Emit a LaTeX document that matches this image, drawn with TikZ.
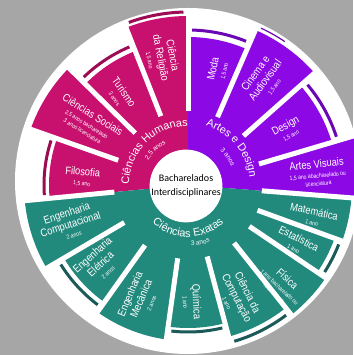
\documentclass[tikz,border=0pt]{standalone}
\usepackage{fontspec}
\setmainfont{Carlito}
\newfontfamily\condfont{Liberation Sans}[FakeStretch=0.85]
\newfontfamily\titlefont{Liberation Sans}
\usetikzlibrary{decorations.text}

\definecolor{bggray}{HTML}{A6A6A6}
\definecolor{huma}{HTML}{C8106E}
\definecolor{humadark}{HTML}{9C0C55}
\definecolor{artes}{HTML}{8C08E4}
\definecolor{artesdark}{HTML}{6A08B5}
\definecolor{exatas}{HTML}{22897D}
\definecolor{exatasdark}{HTML}{1A5A58}

% annular sector: colour, start, end, inner r, outer r
\newcommand{\wedgesec}[5]{\fill[#1] (#2:#4pt) arc[start angle=#2, end angle=#3, radius=#4pt] -- (#3:#5pt) arc[start angle=#3, end angle=#2, radius=#5pt] -- cycle;}
\newcommand{\rimarc}[4]{\draw[#1, line width=3pt] (#2:#4pt) arc[start angle=#2, end angle=#3, radius=#4pt];}
\newcommand{\gapline}[2]{\draw[white, line width=5pt] (#1:74pt) -- (#1:#2pt);}
\newcommand{\yrs}[1]{{\fontsize{6}{7}\selectfont #1}}

\begin{document}
\begin{tikzpicture}[x=1pt,y=1pt,
    course/.style={text=white, font=\condfont\fontsize{11}{12}\selectfont, align=center, inner sep=0pt},
    ringtitle/.style={decorate, decoration={text along path, text align=center, text color=white, text={|\titlefont\fontsize{11}{11}\selectfont|#1}}},
    ringyears/.style={decorate, decoration={text along path, text align=center, text color=white, text={|\titlefont\fontsize{6.5}{6.5}\selectfont|#1}}}]

\useasboundingbox (0,0) rectangle (353,355);
\fill[bggray] (0,0) rectangle (353,355);
\fill[white] (188,174) circle[radius=173pt];

\begin{scope}[shift={(188,170)}]
    % inner ring
    \wedgesec{huma}{90}{185.5}{20}{74}
    \wedgesec{artes}{-4.5}{90}{20}{74}
    \wedgesec{exatas}{185.5}{355.5}{20}{74}

    % Ciencias Humanas
    \wedgesec{huma}{90}{111.5}{72}{169}
    \wedgesec{huma}{111.5}{135.5}{72}{144}
    \wedgesec{huma}{135.5}{160.5}{72}{167}
    \wedgesec{huma}{160.5}{185.5}{72}{139}
    % Artes e Design
    \wedgesec{artes}{66.5}{90}{72}{148}
    \wedgesec{artes}{41.5}{66.5}{72}{169}
    \wedgesec{artes}{16.5}{41.5}{72}{150}
    \wedgesec{artes}{-4.5}{16.5}{72}{182}
    % Ciencias Exatas
    \wedgesec{exatas}{185.5}{210.5}{72}{164}
    \wedgesec{exatas}{210.5}{234.5}{72}{144}
    \wedgesec{exatas}{234.5}{262}{72}{156}
    \wedgesec{exatas}{262}{285}{72}{143}
    \wedgesec{exatas}{285}{308.5}{72}{157}
    \wedgesec{exatas}{308.5}{326}{72}{166}
    \wedgesec{exatas}{326}{340}{72}{156}
    \wedgesec{exatas}{340}{355.5}{72}{164}

    % white gaps
    \gapline{90}{172}
    \gapline{111.5}{172}
    \gapline{135.5}{170}
    \gapline{160.5}{170}
    \gapline{185.5}{167}
    \gapline{210.5}{167}
    \gapline{234.5}{159}
    \gapline{262}{159}
    \gapline{285}{160}
    \gapline{308.5}{169}
    \gapline{326}{169}
    \gapline{340}{167}
    \gapline{355.5}{185}
    \gapline{16.5}{185}
    \gapline{41.5}{172}
    \gapline{66.5}{172}

    % outer rims
    \rimarc{humadark}{91.5}{110}{173}
    \rimarc{humadark}{113}{134}{150}
    \rimarc{humadark}{162}{184}{144}
    \rimarc{artesdark}{68}{88.5}{155}
    \draw[artesdark, line width=1.2pt] (56:173pt) arc[start angle=56, end angle=65, radius=173pt];
    \rimarc{artesdark}{18}{40}{156}
    \rimarc{exatasdark}{212}{233}{150}
    \rimarc{exatasdark}{263.5}{283.5}{147}
    \rimarc{exatasdark}{286.5}{307}{163}
    \rimarc{exatasdark}{327.5}{338.5}{162}

    % ring titles
    \path[ringtitle={Ciências Humanas}] (182:59pt) arc[start angle=182, end angle=88, radius=59pt];
    \path[ringyears={2,5 anos}] (160:47pt) arc[start angle=160, end angle=106, radius=47pt];
    \path[ringtitle={Artes e Design}] (85:62pt) arc[start angle=85, end angle=-5, radius=62pt];
    \path[ringyears={3 anos}] (60:47pt) arc[start angle=60, end angle=10, radius=47pt];
    \path[ringtitle={Ciências Exatas}] (200:52pt) arc[start angle=200, end angle=340, radius=52pt];
    \path[ringyears={3 anos}] (257:61pt) arc[start angle=257, end angle=307, radius=61pt];

    % course labels
    \node[course, rotate=-79] (religiao) at (101.6:130pt) {Ciência\\da Religião\\[-2pt]\yrs{1,5 ano}};
    \node[course, rotate=-55] (turismo) at (127:113pt) {Turismo\\[-2pt]\yrs{3 anos}};
    \node[course, rotate=-32] (sociais) at (147.8:118pt) {Ciências Sociais\\[-2pt]\yrs{2,5 anos bacharelado}\\[-4pt]\yrs{3 anos licenciatura}};
    \node[course, rotate=-5] (filosofia) at (175.7:106pt) {Filosofia\\[-2pt]\yrs{1,5 ano}};
    \node[course, rotate=78] (moda) at (75.4:119pt) {Moda\\[-2pt]\yrs{1,5 ano}};
    \node[course, rotate=54] (cinema) at (54:130pt) {Cinema e\\Audiovisual\\[-2pt]\yrs{1,5 ano}};
    \node[course, rotate=29] (design) at (28.8:114pt) {Design\\[-2pt]\yrs{1,5 ano}};
    \node[course, rotate=6] (visuais) at (5.3:130pt) {Artes Visuais\\[-2pt]\yrs{1,5 ano abacharelado ou}\\[-4pt]\yrs{licenciatura}};
    \node[course, rotate=18] (engcomp) at (198:124pt) {Engenharia\\Computacional\\[-2pt]\yrs{2 anos}};
    \node[course, rotate=42] (engele) at (221.5:118pt) {Engenharia\\Elétrica\\[-2pt]\yrs{2 anos}};
    \node[course, rotate=67] (engmec) at (247:123pt) {Engenharia\\Mecânica\\[-2pt]\yrs{2 anos}};
    \node[course, rotate=-87] (quimica) at (272:117pt) {Química\\[-2pt]\yrs{1 ano}};
    \node[course, rotate=-63] (compu) at (294:123pt) {Ciência da\\Computação\\[-2pt]\yrs{1 ano}};
    \node[course, rotate=-43] (fisica) at (313:137pt) {Física\\[-2pt]\yrs{1 ano bacharelado ou}\\[-4pt]\yrs{licenciatura}};
    \node[course, rotate=-27] (estat) at (332:123pt) {Estatística\\[-2pt]\yrs{1 ano}};
    \node[course, rotate=-12] (mat) at (346:129pt) {Matemática\\[-2pt]\yrs{1 ano}};
\end{scope}

\node[circle, fill=white, minimum size=64pt, inner sep=0pt, align=center, font=\fontsize{10}{14}\selectfont] (bi) at (186,169) {Bacharelados\\Interdisciplinares};
\end{tikzpicture}
\end{document}
